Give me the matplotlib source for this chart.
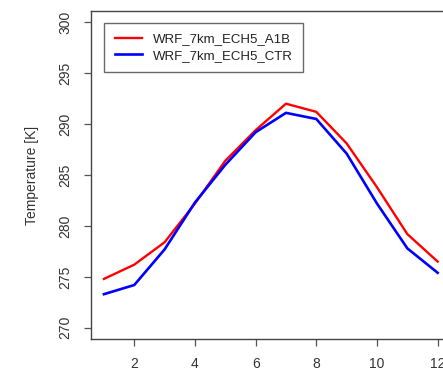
import matplotlib
matplotlib.use("Agg")
import matplotlib.pyplot as plt

months = [1, 2, 3, 4, 5, 6, 7, 8, 9, 10, 11, 12]
a1b = [274.8, 276.2, 278.4, 282.2, 286.4, 289.4, 292.0, 291.2, 288.1, 283.8, 279.2, 276.5]
ctr = [273.3, 274.2, 277.7, 282.3, 286.0, 289.2, 291.1, 290.5, 287.1, 282.2, 277.8, 275.4]
labels = ["WRF_7km_ECH5_A1B", "WRF_7km_ECH5_CTR"]
xticks = [2, 4, 6, 8, 10, 12]
yticks = [270, 275, 280, 285, 290, 295, 300]

plt.rcParams['font.family'] = ['Liberation Sans', 'DejaVu Sans']
W, H = 443, 370
fig = plt.figure(figsize=(W / 100, H / 100), dpi=100)
l, r, t, b = 90.6, 451, 11, 339
ax = fig.add_axes([l / W, (H - b) / H, (r - l) / W, (b - t) / H])

ax.plot(months, a1b, color='#ff0000', lw=1.7, label=labels[0])
ax.plot(months, ctr, color='#0000ff', lw=1.9, label=labels[1])

ax.set_xlim(0.56, 12.44)
ax.set_ylim(268.9, 301.1)
ax.set_xticks(xticks)
ax.set_yticks(yticks)
fs = 10
ax.set_xticklabels([str(v) for v in xticks], fontsize=fs, color='#333333')
ax.set_yticklabels([str(v) for v in yticks], fontsize=fs, color='#333333',
                   rotation=90, va='center')
ax.tick_params(direction='out', length=5, width=0.9, color='#555555', pad=8)
ax.tick_params(axis='x', pad=8)
for s in ax.spines.values():
    s.set_color('#444444')
    s.set_linewidth(1.0)
ax.set_ylabel("Temperature [K]", fontsize=fs, color='#333333', labelpad=14)

leg = ax.legend(loc='upper left', bbox_to_anchor=(104 / W, 1 - 22.7 / H),
                bbox_transform=fig.transFigure, fontsize=9.5, fancybox=False,
                frameon=True, handlelength=2.05, handletextpad=0.85,
                borderpad=0.8, labelspacing=0.3, borderaxespad=0)
leg.get_frame().set_edgecolor('#444444')
leg.get_frame().set_linewidth(1.0)
for txt in leg.get_texts():
    txt.set_color('#222222')

fig.savefig("out.png", dpi=100)
